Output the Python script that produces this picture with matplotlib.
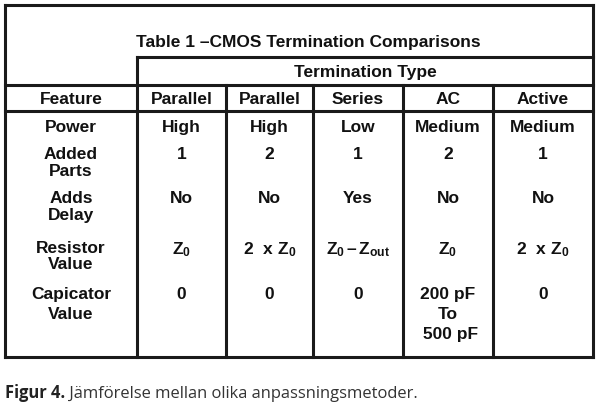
import matplotlib
matplotlib.use("Agg")
import matplotlib.pyplot as plt

plt.rcParams['mathtext.fontset'] = 'custom'
plt.rcParams['mathtext.rm'] = 'Liberation Sans:bold'
plt.rcParams['mathtext.it'] = 'Liberation Sans:bold'
plt.rcParams['mathtext.bf'] = 'Liberation Sans:bold'

title = "Table 1 –CMOS Termination Comparisons"
group_header = "Termination Type"
first_header = "Feature"
col_headers = ["Parallel", "Parallel", "Series", "AC", "Active"]
features = ["Power", "Added\nParts", "Adds\nDelay", "Resistor\nValue", "Capicator\nValue"]
row_power = ["High", "High", "Low", "Medium", "Medium"]
row_parts = ["1", "2", "1", "2", "1"]
row_delay = ["No", "No", "Yes", "No", "No"]
row_resistor = [r"$\mathrm{Z_0}$", r"$\mathrm{2\ \ x\ Z_0}$", r"$\mathrm{Z_0\,–\,Z_{out}}$",
                r"$\mathrm{Z_0}$", r"$\mathrm{2\ \ x\ Z_0}$"]
row_cap = ["0", "0", "0", "200 pF\nTo\n 500 pF", "0"]
caption_bold = "Figur 4."
caption_text = " Jämförelse mellan olika anpassningsmetoder."

rows = [row_power, row_parts, row_delay, row_resistor, row_cap]

W, H = 600, 409
fig = plt.figure(figsize=(W / 100, H / 100), dpi=100)
ax = fig.add_axes([0, 0, 1, 1])
ax.set_xlim(0, W)
ax.set_ylim(H, 0)
ax.axis('off')

# layout
xs = [5, 137, 226, 313, 403, 493, 593]
y_top, y_title, y_group, y_head, y_bot = 5, 57, 85, 111, 357
lc = '#1a1a1a'
lw = 2.2

def hline(y, x0, x1):
    ax.plot([x0, x1], [y, y], color=lc, lw=lw, solid_capstyle='projecting')

def vline(x, y0, y1):
    ax.plot([x, x], [y0, y1], color=lc, lw=lw, solid_capstyle='projecting')

hline(y_top, xs[0], xs[-1])
hline(y_title, xs[1], xs[-1])
hline(y_group, xs[0], xs[-1])
hline(y_head, xs[0], xs[-1])
hline(y_bot, xs[0], xs[-1])
vline(xs[0], y_top, y_bot)
vline(xs[-1], y_top, y_bot)
vline(xs[1], y_title, y_bot)
for x in xs[2:-1]:
    vline(x, y_group, y_bot)

fs = 12.5
tc = '#111111'
font = dict(family='Liberation Sans', weight='bold', color=tc, fontsize=fs)
half_cap = 0.716 * fs * 100 / 72 / 2  # offset from visual centre to baseline

def put(x, yc, s):
    ax.text(x, yc + half_cap, s, ha='center', va='baseline', **font)

put(308, 41, title)
put((xs[1] + xs[-1]) / 2, 71, group_header)
put((xs[0] + xs[1]) / 2, 98, first_header)
for i, h in enumerate(col_headers):
    put((xs[i + 1] + xs[i + 2]) / 2, 98, h)

feat_lines_y = [[126], [153, 170], [197, 214], [247, 263], [293, 313]]
for f, ys in zip(features, feat_lines_y):
    for line, y in zip(f.split("\n"), ys):
        put((xs[0] + xs[1]) / 2, y, line)

val_y = [126, 153, 197, 248, 293]
cell_line_gap = 20
for r, y in zip(rows, val_y):
    for i, v in enumerate(r):
        for k, line in enumerate(v.split("\n")):
            put((xs[i + 1] + xs[i + 2]) / 2, y + k * cell_line_gap, line)

cap_fs = 11.9
t1 = ax.text(5, 398, caption_bold, ha='left', va='baseline', fontsize=cap_fs,
             family='Open Sans', weight='bold', color='#222222')
fig.canvas.draw()
bb = t1.get_window_extent()
ax.annotate(caption_text, xy=(bb.x1, H - 398), xycoords='figure pixels',
            ha='left', va='baseline', fontsize=cap_fs, family='Open Sans', color='#333333')

fig.savefig('out.png', dpi=100)
